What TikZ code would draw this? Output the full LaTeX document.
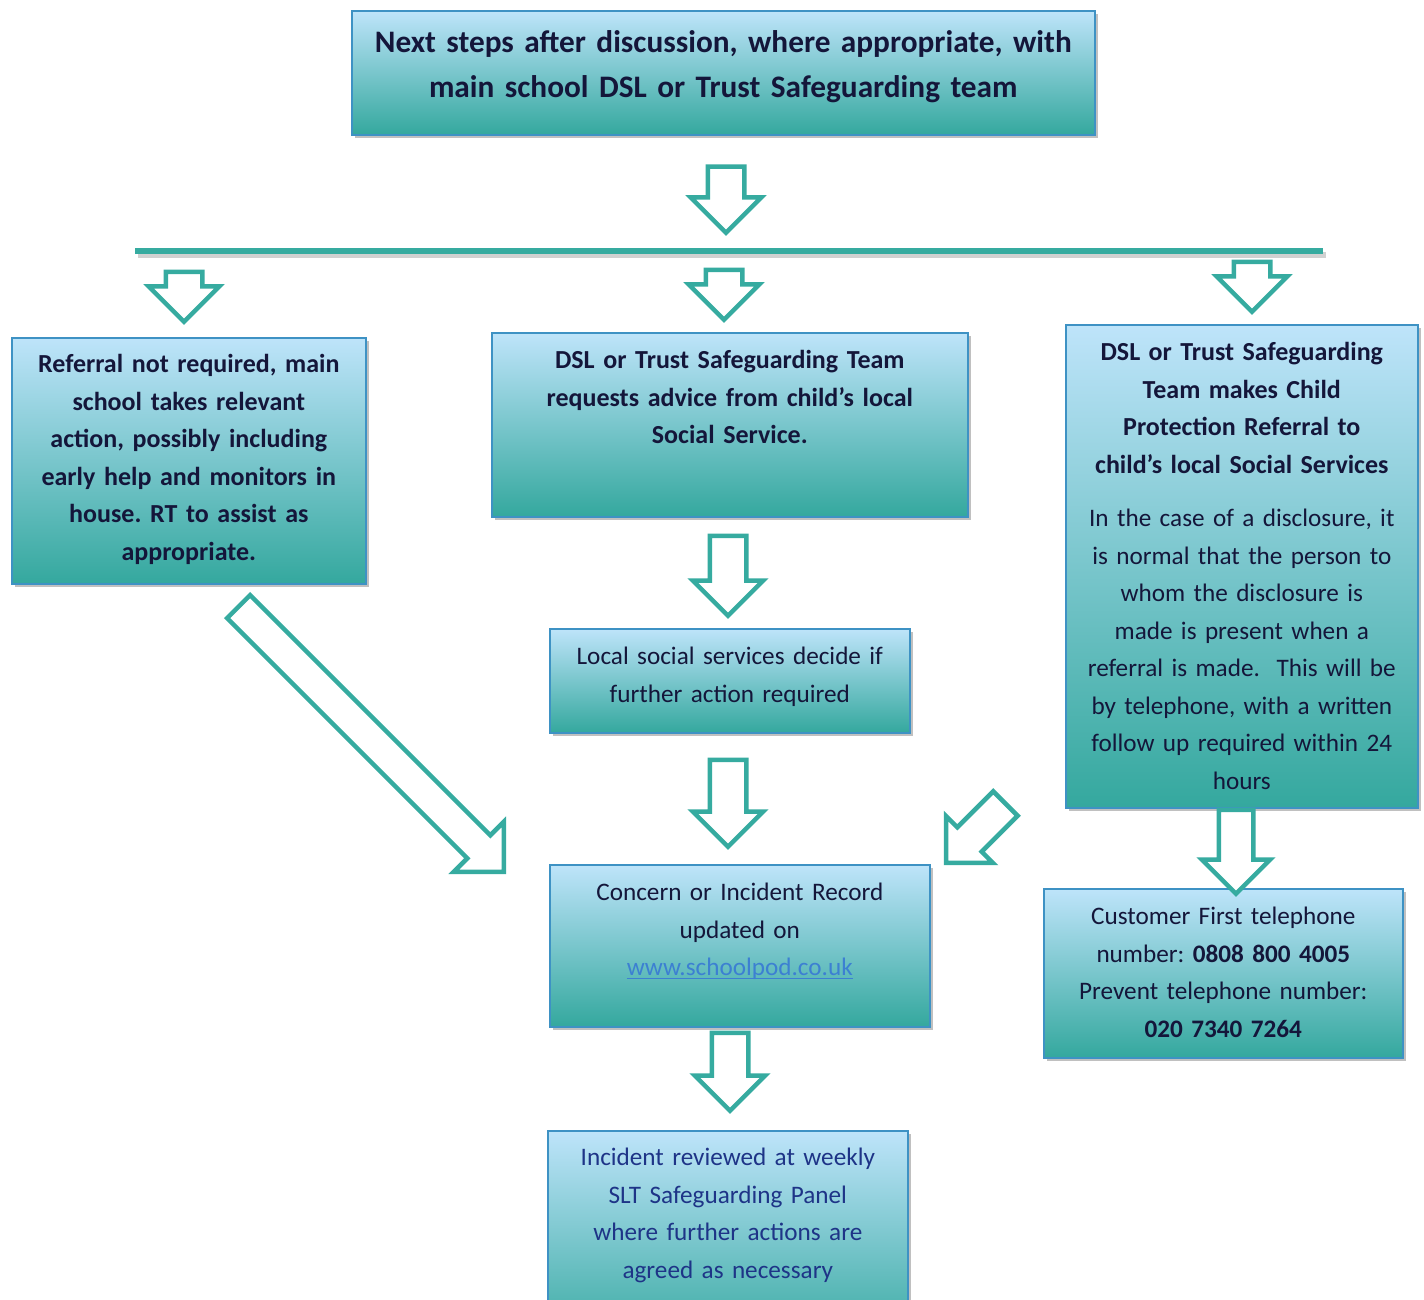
\documentclass[tikz,border=0pt]{standalone}
\usepackage{fontspec}
\setmainfont{Carlito}
\usepackage{tikz}
\usetikzlibrary{shapes.arrows,shadows}
\frenchspacing

\definecolor{paneltop}{RGB}{190,228,250}
\definecolor{panelbot}{RGB}{52,168,158}
\definecolor{panelline}{RGB}{62,146,196}
\definecolor{arrowteal}{RGB}{54,171,160}
\definecolor{inknavy}{RGB}{20,22,58}
\definecolor{inkblue}{RGB}{30,52,135}
\definecolor{linkblue}{RGB}{60,128,210}

\newcommand\weblink[1]{\setbox0\hbox{#1}\rlap{\rule[-3pt]{\wd0}{1.3pt}}\box0}

\tikzset{
  panel/.style={draw=panelline, line width=1.6pt, top color=paneltop, bottom color=panelbot,
    drop shadow={shadow xshift=3pt, shadow yshift=-3pt, opacity=0.35, fill=black!70},
    anchor=north west, align=center, inner sep=0pt, text=inknavy,
    font=\fontsize{25.2}{37.5}\selectfont},
  boldpanel/.style={panel, font=\fontsize{26}{37.5}\selectfont\bfseries},
  blockarrow/.style={shape=single arrow, draw=arrowteal, line width=4.5pt, fill=white,
    inner sep=0pt, inner ysep=16pt, single arrow head extend=17pt, anchor=tail},
  arrowdown/.style={blockarrow, rotate=-90},
  bar/.style={draw=arrowteal, line width=6pt}
}

\begin{document}
\begin{tikzpicture}[x=1pt,y=-1pt]
  \clip (0,0) rectangle (1424,1300);
  \fill[white] (0,0) rectangle (1424,1300);

  % the boxes
  \node[panel, text width=743pt, text height=42pt, text depth=82pt,
        font=\fontsize{31.3}{45}\selectfont\bfseries] (title) at (351,10)
        {Next steps after discussion, where appropriate, with\\ main school DSL or Trust Safeguarding team};

  \node[boldpanel, text width=354pt, text height=35pt, text depth=211pt] (notreq) at (11,337)
        {Referral not required, main\\ school takes relevant\\ action, possibly including\\ early help and monitors in\\ house. RT to assist as\\ appropriate.};

  \node[boldpanel, text width=476pt, text height=36pt, text depth=148pt] (advice) at (491,332)
        {DSL or Trust Safeguarding Team\\ requests advice from child’s local\\ Social Service.};

  \node[panel, text width=352pt, text height=36pt, text depth=447pt] (referral) at (1065,324)
        {{\fontsize{26}{37.5}\selectfont\bfseries DSL or Trust Safeguarding\\ Team makes Child\\ Protection Referral to\\ child’s local Social Services}\\[16pt]
         In the case of a disclosure, it\\ is normal that the person to\\ whom the disclosure is\\ made is present when a\\ referral is made.\ \ This will be\\ by telephone, with a written\\ follow up required within 24\\ hours};

  \node[panel, text width=360pt, text height=36pt, text depth=68pt] (decide) at (549,628)
        {Local social services decide if\\ further action required};

  \node[panel, text width=380pt, text height=36pt, text depth=126pt] (record) at (549,864)
        {Concern or Incident Record\\ updated on\\ \textcolor{linkblue}{\weblink{www.schoolpod.co.uk}}};

  \node[panel, text width=359pt, text height=36pt, text depth=133pt] (customer) at (1043,888)
        {Customer First telephone\\ number: \textbf{0808 800 4005}\\ Prevent telephone number:\\ \textbf{020 7340 7264}};

  \node[panel, text width=360pt, text height=35pt, text depth=185pt, text=inkblue] (review) at (547,1130)
        {Incident reviewed at weekly\\ SLT Safeguarding Panel\\ where further actions are\\ agreed as necessary};

  % the bar
  \coordinate (barl) at (135,251);
  \coordinate (barr) at (1323,251);
  \draw[line width=6pt, black, opacity=0.18] ([shift={(3,4)}]barl) -- ([shift={(3,4)}]barr);
  \draw[bar] (barl) -- (barr);

  % the arrows
  \node[arrowdown, minimum height=66pt] (arrtitle) at (726,164.5) {};
  \node[arrowdown, minimum height=50pt] (arrleft) at (184,269.5) {};
  \node[arrowdown, minimum height=50pt] (arrmid) at (724,267.5) {};
  \node[arrowdown, minimum height=50pt] (arrright) at (1252,259.5) {};
  \node[arrowdown, minimum height=80pt] (arradvice) at (728,533.5) {};
  \node[arrowdown, minimum height=87pt] (arrdecide) at (728,757.5) {};
  \node[arrowdown, minimum height=78pt] (arrrecord) at (730,1030.5) {};
  \node[arrowdown, minimum height=84pt, inner ysep=15pt] (arrreferral) at (1236,807.5) {};
  \node[blockarrow, rotate=-45, minimum height=375pt, inner ysep=14pt, single arrow head extend=19pt]
        (arrnotreq) at (237,605) {};
  \node[blockarrow, rotate=-135, minimum height=84pt, inner ysep=15pt, single arrow head extend=16pt]
        (arrcustomer) at (1007,802) {};
\end{tikzpicture}
\end{document}
